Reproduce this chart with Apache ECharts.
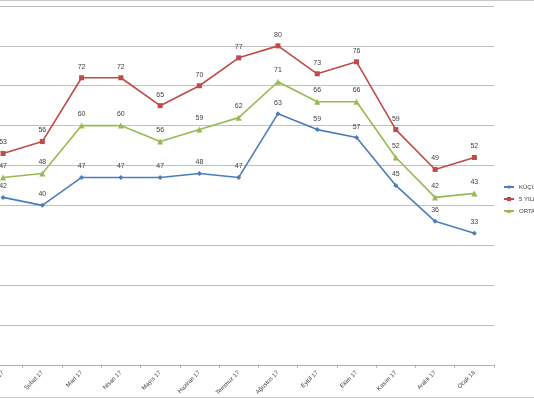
<!DOCTYPE html>
<html><head><meta charset="utf-8">
<script src="https://cdn.jsdelivr.net/npm/echarts@6/dist/echarts.min.js"></script>
<style>html,body{margin:0;padding:0;background:#fff;overflow:hidden;width:534px;height:398px;position:relative}
#c{position:absolute;left:-17px;top:0;width:551px;height:398px}</style>
</head><body><div id="c"></div>
<script>
const categories = ['Ocak 17','Şubat 17','Mart 17','Nisan 17','Mayıs 17','Haziran 17','Temmuz 17','Ağustos 17','Eylül 17','Ekim 17','Kasım 17','Aralık 17','Ocak 18'];
const kucuk = [42, 40, 47, 47, 47, 48, 47, 63, 59, 57, 45, 36, 33];
const besYildiz = [53, 56, 72, 72, 65, 70, 77, 80, 73, 76, 59, 49, 52];
const ortalama = [47, 48, 60, 60, 56, 59, 62, 71, 66, 66, 52, 42, 43];
const seriesNames = ['KÜÇÜK OTEL', '5 YILDIZLI OTEL', 'ORTALAMA'];

const chart = echarts.init(document.getElementById('c'));
const lbl = {show: true, position: 'top', distance: 5, fontSize: 7, color: '#404040', fontFamily: 'Liberation Sans'};
function mk(name, data, color, symbol, size) {
  return {name, type: 'line', data, symbol, symbolSize: size, showSymbol: true,
    lineStyle: {color, width: 1.6}, itemStyle: {color}, label: lbl, animation: false};
}
chart.setOption({
  animation: false,
  grid: {left: 0, right: 40, top: 6, bottom: 31},
  xAxis: {type: 'category', data: categories, boundaryGap: true,
    axisLine: {lineStyle: {color: '#b0b0b0'}},
    axisTick: {show: true, length: 3, lineStyle: {color: '#b0b0b0'}},
    axisLabel: {rotate: 45, fontSize: 6, color: '#404040', margin: 7, interval: 0, fontFamily: 'Liberation Sans'}},
  yAxis: {type: 'value', min: 0, max: 90, interval: 10,
    axisLine: {show: false}, axisTick: {show: false}, axisLabel: {show: false},
    splitLine: {lineStyle: {color: '#c0c0c0', width: 1}}},
  legend: {orient: 'vertical', left: 520, top: 184, padding: 0, itemGap: 6, itemWidth: 10, itemHeight: 5,
    textStyle: {fontSize: 6, color: '#404040', fontFamily: 'Liberation Sans'}, data: seriesNames},
  graphic: [
    {type: 'line', shape: {x1: 17, y1: 0.5, x2: 551, y2: 0.5}, style: {stroke: '#c8c8c8', lineWidth: 1}},
    {type: 'line', shape: {x1: 17, y1: 397.5, x2: 551, y2: 397.5}, style: {stroke: '#c8c8c8', lineWidth: 1}}
  ],
  series: [
    mk(seriesNames[0], kucuk, '#4A7EBB', 'diamond', 5),
    mk(seriesNames[1], besYildiz, '#BE4B48', 'rect', 5),
    mk(seriesNames[2], ortalama, '#98B954', 'triangle', 6)
  ]
});
</script></body></html>
